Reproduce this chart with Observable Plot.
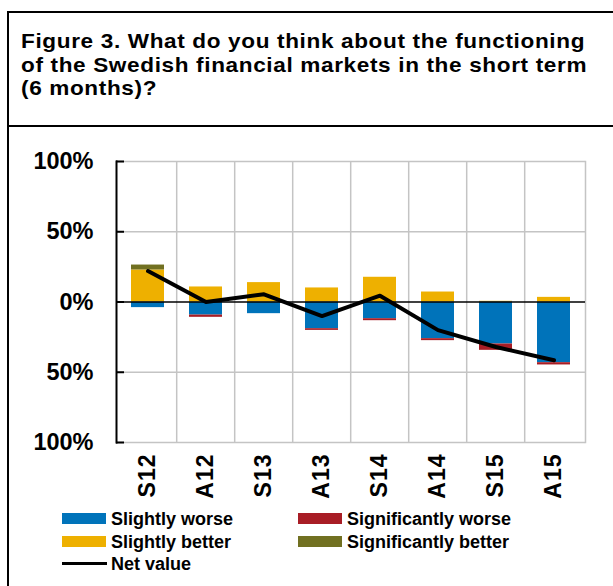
<!DOCTYPE html>
<html>
<head>
<meta charset="utf-8">
<script src="https://cdn.jsdelivr.net/npm/d3@7"></script>
<script src="https://cdn.jsdelivr.net/npm/@observablehq/plot@0.6"></script>
<style>
  html, body { margin: 0; padding: 0; background: #fff; overflow: hidden; }
  body { width: 613px; height: 586px; position: relative; font-family: "Liberation Sans", sans-serif; }
  #box { position: absolute; left: 7px; top: 11px; width: 620px; height: 600px; border-left: 2px solid #000; border-top: 2px solid #000; box-sizing: border-box; }
  #sep { position: absolute; left: 7px; top: 125px; width: 620px; height: 2px; background: #000; }
  .tl { position: absolute; left: 21px; font-weight: 700; font-size: 21px; letter-spacing: 0.6px; line-height: 23.5px; color: #000; white-space: nowrap; transform: scaleX(1.074); transform-origin: 0 0; }
  #chart { position: absolute; left: 0; top: 130px; }
  .xax text { letter-spacing: 1px; }
  .leg { position: absolute; font-weight: 700; font-size: 18px; letter-spacing: 0px; line-height: 22px; color: #000; white-space: nowrap; }
  .sw { position: absolute; width: 44px; height: 11px; }
  .ln { position: absolute; width: 45px; height: 3px; background: #000; }
</style>
</head>
<body>
<div id="box"></div>
<div id="sep"></div>
<div class="tl" style="top:29px">Figure 3. What do you think about the functioning</div>
<div class="tl" style="top:52.5px">of the Swedish financial markets in the short term</div>
<div class="tl" style="top:76px">(6 months)?</div>
<div id="chart"></div>
<div id="legend"></div>
<script>
const periods = ["S12","A12","S13","A13","S14","A14","S15","A15"];
const slightlyWorse = [-4.0, -9.3, -8.3, -19.0, -11.9, -26.1, -29.9, -43.2];
const significantlyWorse = [0, -1.6, 0, -1.2, -1.4, -1.4, -4.5, -1.6];
const slightlyBetter = [22.8, 10.7, 13.8, 10.0, 17.6, 7.1, 0.5, 3.3];
const significantlyBetter = [3.5, 0, 0, 0, 0, 0, 0, 0];
const netValue = [22, 0, 5.5, -10, 4.5, -20, -32, -41.5];
const seriesNames = ["Slightly worse", "Significantly worse", "Slightly better", "Significantly better"];
const seriesColors = ["#0073BA", "#A81D25", "#EEB000", "#717021"];
const yTicks = [-100, -50, 0, 50, 100];

const seriesValues = [slightlyWorse, significantlyWorse, slightlyBetter, significantlyBetter];
const bars = [];
seriesNames.forEach((s, si) => periods.forEach((p, i) => bars.push({period: p, series: s, value: seriesValues[si][i]})));
const net = periods.map((p, i) => ({period: p, value: netValue[i]}));

const W = 613, H = 370, mL = 116, mR = 28, mT = 31, mB = 58;
const step = (W - mL - mR) / periods.length;

const chart = Plot.plot({
  width: W, height: H,
  marginLeft: mL, marginRight: mR, marginTop: mT, marginBottom: mB,
  style: {fontFamily: "'Liberation Sans', sans-serif", color: "#000", background: "transparent"},
  x: {domain: periods, paddingInner: 0.43, paddingOuter: 0.215, label: null},
  y: {domain: [-100, 100], ticks: yTicks, label: null},
  color: {domain: seriesNames, range: seriesColors},
  marks: [
    Plot.ruleY([-100, -50, 50, 100], {stroke: "#c4c4c4", strokeWidth: 1.5}),
    Plot.ruleX(periods.slice(1), {x: d => d, dx: -step / 2, stroke: "#c4c4c4", strokeWidth: 1.5}),
    Plot.frame({anchor: "right", stroke: "#c4c4c4", strokeWidth: 1.5}),
    Plot.barY(bars, {x: "period", y: "value", fill: "series", order: seriesNames}),
    Plot.ruleY([0], {stroke: "#000", strokeWidth: 1.5}),
    Plot.frame({anchor: "left", stroke: "#000", strokeWidth: 2}),
    Plot.axisY({ticks: yTicks, tickSize: -8, tickPadding: 31, tickFormat: d => Math.abs(d) + "%", fontSize: 23.5, fontWeight: "bold", strokeWidth: 2}),
    Plot.axisX({tickSize: 0, tickRotate: -90, tickPadding: 11, fontSize: 23, fontWeight: "bold", className: "xax"}),
    Plot.line(net, {x: "period", y: "value", stroke: "#000", strokeWidth: 4})
  ]
});
document.getElementById("chart").appendChild(chart);

const legend = document.getElementById("legend");
const legItems = [
  {name: seriesNames[0], color: seriesColors[0], x: 62, y: 513},
  {name: seriesNames[1], color: seriesColors[1], x: 298, y: 513},
  {name: seriesNames[2], color: seriesColors[2], x: 62, y: 536},
  {name: seriesNames[3], color: seriesColors[3], x: 298, y: 536}
];
legItems.forEach(it => {
  const sw = document.createElement("div");
  sw.className = "sw"; sw.style.left = it.x + "px"; sw.style.top = it.y + "px"; sw.style.background = it.color;
  legend.appendChild(sw);
  const t = document.createElement("div");
  t.className = "leg"; t.style.left = (it.x + 49) + "px"; t.style.top = (it.y - 5) + "px"; t.textContent = it.name;
  legend.appendChild(t);
});
const ln = document.createElement("div");
ln.className = "ln"; ln.style.left = "62px"; ln.style.top = "562px";
legend.appendChild(ln);
const lt = document.createElement("div");
lt.className = "leg"; lt.style.left = "111px"; lt.style.top = "553px"; lt.textContent = "Net value";
legend.appendChild(lt);
</script>
</body>
</html>
